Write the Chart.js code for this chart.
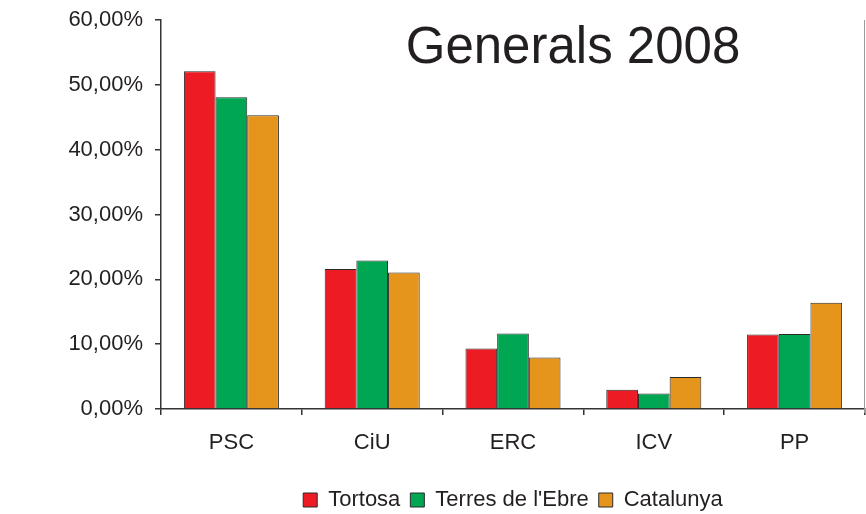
<!DOCTYPE html>
<html>
<head>
<meta charset="utf-8">
<script src="https://cdn.jsdelivr.net/npm/chart.js@4"></script>
<style>
  html, body { margin: 0; padding: 0; background: #fff; overflow: hidden; }
  #wrap { width: 866px; height: 521px; position: relative; }
</style>
</head>
<body>
<div id="wrap"><canvas id="generalsChart"></canvas></div>
<script>
// ===== DADES =====
const partits = ["PSC", "CiU", "ERC", "ICV", "PP"];
const tortosa = [52.1, 21.6, 9.35, 2.95, 11.5];
const terresEbre = [48.1, 22.9, 11.65, 2.4, 11.55];
const catalunya = [45.3, 21.05, 7.95, 4.95, 16.4];
const yTicks = [0, 10, 20, 30, 40, 50, 60];

const FONT = "'Liberation Sans', Arial, Helvetica, sans-serif";
const INK = "#231f20";

Chart.defaults.font.family = FONT;
Chart.defaults.color = INK;

// títol dins l'àrea del gràfic + vora dreta grisa
const extras = {
  id: "extras",
  afterDraw(chart) {
    const { ctx, chartArea } = chart;
    ctx.save();
    ctx.strokeStyle = "#9a9a9a";
    ctx.lineWidth = 1;
    ctx.beginPath();
    ctx.moveTo(chartArea.right - 0.5, chartArea.top);
    ctx.lineTo(chartArea.right - 0.5, chartArea.bottom + 4);
    ctx.stroke();

    ctx.fillStyle = INK;
    ctx.font = "51px " + FONT;
    ctx.textAlign = "center";
    ctx.textBaseline = "alphabetic";
    ctx.fillText("Generals 2008", 573, 63);
    ctx.restore();
  }
};

new Chart(document.getElementById("generalsChart"), {
  type: "bar",
  data: {
    labels: partits,
    datasets: [
      { label: "Tortosa", data: tortosa, backgroundColor: "#ed1c24" },
      { label: "Terres de l'Ebre", data: terresEbre, backgroundColor: "#00a651" },
      { label: "Catalunya", data: catalunya, backgroundColor: "#e6951c" }
    ].map(d => Object.assign(d, { borderColor: "#2a2a2a", borderWidth: 1 }))
  },
  options: {
    responsive: true,
    maintainAspectRatio: false,
    animation: false,
    layout: { padding: { top: 0, right: 1, left: 0, bottom: 0 } },
    datasets: { bar: { categoryPercentage: 0.675, barPercentage: 1 } },
    plugins: {
      legend: {
        position: "bottom",
        fullSize: false,
        labels: {
          boxWidth: 14,
          boxHeight: 14,
          padding: 10,
          color: INK,
          font: { size: 22 }
        }
      },
      tooltip: { enabled: false }
    },
    scales: {
      x: {
        afterFit: s => { s.height = 70; },
        border: { color: "#333", width: 1.5 },
        grid: { drawOnChartArea: false, tickLength: 6, color: "#333", lineWidth: 1.5 },
        ticks: { font: { size: 22 }, color: INK, padding: 15 }
      },
      y: {
        min: 0,
        max: 60,
        afterFit: s => { s.width = 161; s.paddingTop = 20; },
        afterBuildTicks: s => { s.ticks = yTicks.map(v => ({ value: v })); },
        border: { color: "#333", width: 1.5 },
        grid: { drawOnChartArea: false, tickLength: 6, color: "#333", lineWidth: 1.5 },
        ticks: {
          font: { size: 22 },
          color: INK,
          padding: 12,
          callback: v => v.toFixed(2).replace(".", ",") + "%"
        }
      }
    }
  },
  plugins: [extras]
});
</script>
</body>
</html>
